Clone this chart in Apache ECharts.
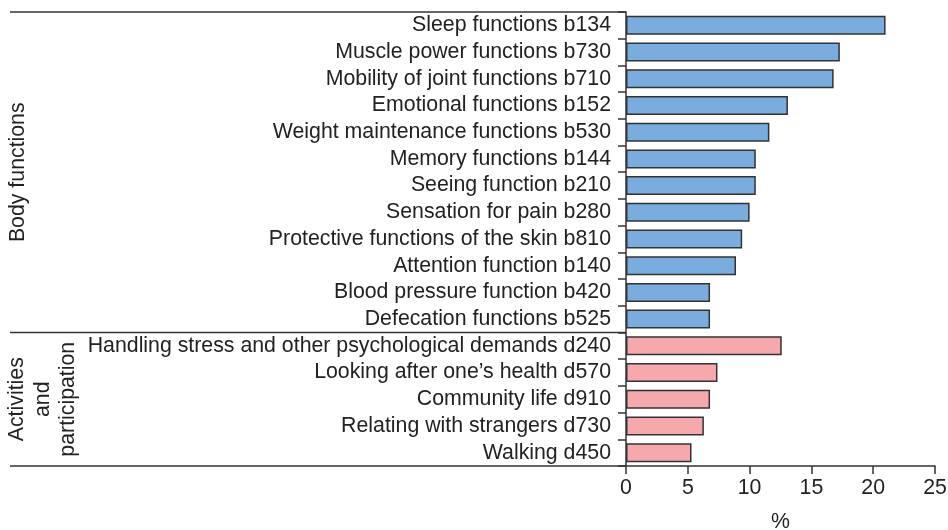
<!doctype html>
<html lang="en">
<head>
<meta charset="UTF-8">
<script src="https://cdn.jsdelivr.net/npm/echarts@6/dist/echarts.min.js"></script>
</head>
<body style="margin:0;background:#fff">
<div id="main" style="width:948px;height:530px;"></div>
<script>
// body functions (blue)
var bodyItems = ['Sleep functions b134', 'Muscle power functions b730', 'Mobility of joint functions b710',
    'Emotional functions b152', 'Weight maintenance functions b530', 'Memory functions b144',
    'Seeing function b210', 'Sensation for pain b280', 'Protective functions of the skin b810',
    'Attention function b140', 'Blood pressure function b420', 'Defecation functions b525'];
var bodyValues = [21.0, 17.3, 16.8, 13.1, 11.6, 10.5, 10.5, 10.0, 9.4, 8.9, 6.8, 6.8];

// activities and participation (pink)
var actItems = ['Handling stress and other psychological demands d240', 'Looking after one\u2019s health d570',
    'Community life d910', 'Relating with strangers d730', 'Walking d450'];
var actValues = [12.6, 7.4, 6.8, 6.3, 5.3];

var xMin = 0, xMax = 25, xStep = 5;

var blue = '#7aacdd', pink = '#f5a9ad';
var lineCol = '#333', txtCol = '#222';
var font = 'Liberation Sans, Arial, sans-serif';
var fs = 21.3;

var gLeft = 626, gRight = 13, gTop = 12, gBottom = 64;
var H = 530;

var cats = bodyItems.concat(actItems);
var data = [];
bodyValues.forEach(function (v) { data.push({ value: v, itemStyle: { color: blue } }); });
actValues.forEach(function (v) { data.push({ value: v, itemStyle: { color: pink } }); });

var rowH = (H - gTop - gBottom) / cats.length;
var sepY = gTop + bodyItems.length * rowH;
var botY = H - gBottom;

var myChart = echarts.init(document.getElementById('main'));
var option = {
    animation: false,
    textStyle: { fontFamily: font },
    grid: { left: gLeft, right: gRight, top: gTop, bottom: gBottom, containLabel: false, outerBoundsMode: 'none' },
    xAxis: {
        type: 'value', min: xMin, max: xMax, interval: xStep,
        splitLine: { show: false },
        axisLine: { show: true, lineStyle: { color: lineCol, width: 1.5 } },
        axisTick: { show: true, length: 8, lineStyle: { color: lineCol, width: 1.5 } },
        axisLabel: { fontSize: fs, color: txtCol, margin: 12, fontFamily: font },
        name: '%', nameLocation: 'middle', nameGap: 46,
        nameTextStyle: { fontSize: fs, color: txtCol, fontFamily: font }
    },
    yAxis: {
        type: 'category', inverse: true, data: cats,
        axisLine: { show: true, lineStyle: { color: lineCol, width: 1.5 } },
        axisTick: { show: true, length: 8, lineStyle: { color: lineCol, width: 1.5 } },
        axisLabel: { interval: 0, fontSize: fs, color: txtCol, margin: 15, fontFamily: font }
    },
    series: [{
        type: 'bar', data: data, barWidth: 19,
        itemStyle: { borderColor: lineCol, borderWidth: 1.5 }
    }],
    graphic: [
        { type: 'line', shape: { x1: 10, y1: gTop, x2: gLeft, y2: gTop }, style: { stroke: lineCol, lineWidth: 1.5 } },
        { type: 'line', shape: { x1: 10, y1: sepY, x2: gLeft, y2: sepY }, style: { stroke: lineCol, lineWidth: 1.5 } },
        { type: 'line', shape: { x1: 10, y1: botY, x2: gLeft, y2: botY }, style: { stroke: lineCol, lineWidth: 1.5 } },
        {
            type: 'text', x: 18, y: (gTop + sepY) / 2, rotation: Math.PI / 2,
            style: { text: 'Body functions', fontSize: fs, fill: txtCol, fontFamily: font, align: 'center', verticalAlign: 'middle' }
        },
        {
            type: 'text', x: 43, y: (sepY + botY) / 2, rotation: Math.PI / 2,
            style: { text: 'Activities\nand\nparticipation', fontSize: fs, lineHeight: 25.5, fill: txtCol, fontFamily: font, align: 'center', verticalAlign: 'middle' }
        }
    ]
};
myChart.setOption(option);
</script>
</body>
</html>
